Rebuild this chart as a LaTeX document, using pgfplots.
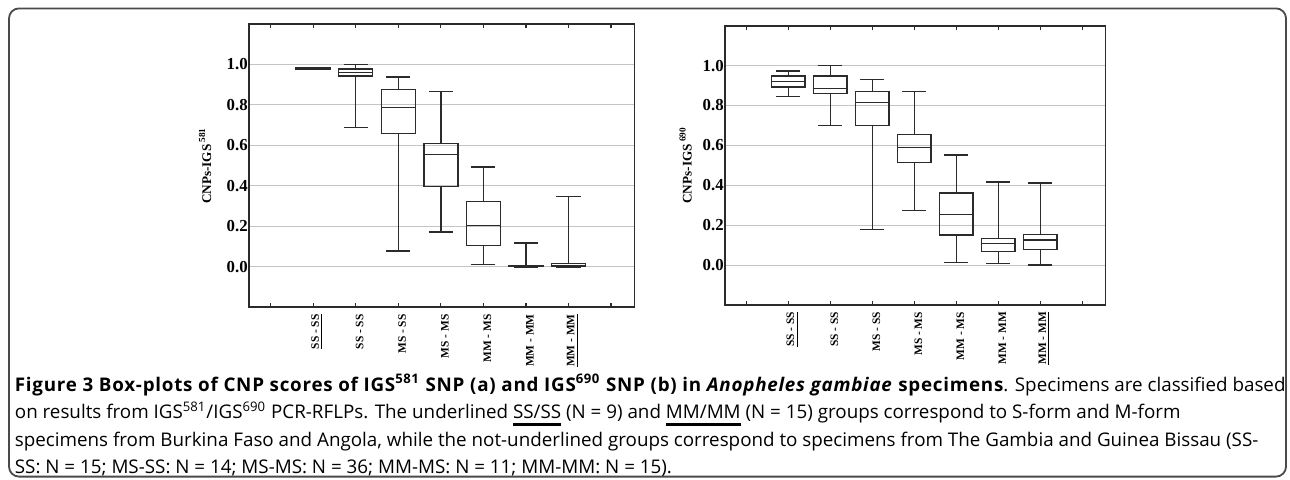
\documentclass[border=0pt]{standalone}
\usepackage{fontspec}
\setmainfont{Open Sans}
\newfontfamily\pf{Liberation Serif}
\usepackage{pgfplots}
\pgfplotsset{compat=1.18}
\usepgfplotslibrary{statistics}
\definecolor{Ink}{HTML}{2B2B2B}
\definecolor{Grid}{HTML}{C4C4C4}
\definecolor{Frame}{HTML}{4A4A4A}

\newcommand\ul[1]{\leavevmode\setbox0\hbox{#1}\rlap{\rule[-3.4bp]{\wd0}{1.3bp}}\box0\relax}
\newcommand\capb[1]{{\bfseries\addfontfeatures{LetterSpace=4}#1}}

\pgfplotsset{
  cnp/.style={
    scale only axis,
    anchor=north west,
    xmin=-0.5, xmax=8.55, ymin=-0.2, ymax=1.2,
    xtick={0,...,8},
    xticklabels={,\underline{SS - SS},SS - SS,MS - SS,MS - MS,MM - MS,MM - MM,\underline{MM - MM},},
    ytick={0,0.2,...,1.0},
    ymajorgrids,
    major grid style={Grid, line width=0.5bp},
    axis line style={Ink, line width=0.9bp},
    xtick style={Ink, line width=0.6bp},
    major tick length=2bp,
    ytick style={draw=none},
    x tick label style={rotate=90, anchor=east, yshift=-2bp,
      font=\pf\bfseries\fontsize{5.7bp}{6bp}\selectfont},
    y tick label style={inner sep=0.6bp,
      font=\pf\bfseries\fontsize{8.4bp}{9bp}\selectfont,
      /pgf/number format/.cd, fixed, fixed zerofill, precision=1, assume math mode=true},
    ylabel style={font=\pf\bfseries\fontsize{6.6bp}{7bp}\selectfont,
      at={(axis description cs:0,0.5)}, anchor=center},
    boxplot/draw direction=y,
    boxplot/box extend=0.8,
    boxplot/whisker extend=0.565,
  },
  bx/.style={Ink, line width=0.7bp, solid, mark=none},
}

% draw position, lower whisker, lower quartile, median, upper quartile, upper whisker
\newcommand\bx[6]{\addplot[bx, boxplot prepared={draw position=#1,
  lower whisker=#2, lower quartile=#3, median=#4,
  upper quartile=#5, upper whisker=#6}] coordinates {};}

\begin{document}
\begin{tikzpicture}
  \path[use as bounding box] (0,0) rectangle (645bp,-240bp);
  \draw[Frame, line width=0.9bp, rounded corners=5bp] (4.5bp,-4.2bp) rectangle (643bp,-238.3bp);

  % (a) IGS 581
  \begin{axis}[cnp,
      at={(124.65bp,-12bp)}, width=192.6bp, height=141.65bp,
      ylabel={CNPs-IGS\,\textsuperscript{581}},
      ylabel style={yshift=22.15bp},
    ]
    \bx{1}{0.976}{0.977}{0.980}{0.982}{0.983}
    \bx{2}{0.688}{0.944}{0.960}{0.978}{1.000}
    \bx{3}{0.079}{0.660}{0.788}{0.877}{0.939}
    \bx{4}{0.173}{0.396}{0.554}{0.609}{0.865}
    \bx{5}{0.012}{0.105}{0.204}{0.322}{0.493}
    \bx{6}{0.000}{0.001}{0.004}{0.008}{0.118}
    \bx{7}{0.000}{0.002}{0.008}{0.016}{0.347}
  \end{axis}

  % (b) IGS 690
  \begin{axis}[cnp,
      at={(362.65bp,-12.85bp)}, width=190.05bp, height=139.65bp,
      ylabel={CNPs-IGS\,\textsuperscript{690}},
      ylabel style={yshift=19.9bp},
    ]
    \bx{1}{0.845}{0.893}{0.920}{0.948}{0.973}
    \bx{2}{0.701}{0.860}{0.886}{0.948}{1.000}
    \bx{3}{0.179}{0.701}{0.816}{0.870}{0.930}
    \bx{4}{0.275}{0.513}{0.589}{0.654}{0.870}
    \bx{5}{0.013}{0.150}{0.255}{0.361}{0.551}
    \bx{6}{0.008}{0.068}{0.107}{0.132}{0.416}
    \bx{7}{0.000}{0.078}{0.125}{0.154}{0.411}
  \end{axis}

  \node[anchor=north west, inner sep=0pt, align=left,
        font=\fontsize{9.4bp}{13.8bp}\selectfont] at (7.25bp,-186.8bp) {%
    \capb{Figure 3 Box-plots of CNP scores of IGS\textsuperscript{581} SNP (a) and IGS\textsuperscript{690} SNP (b) in \textit{Anopheles gambiae} specimens}. Specimens are classified based\\
    on results from IGS\textsuperscript{581}/IGS\textsuperscript{690} PCR-RFLPs. The underlined \ul{SS/SS} (N = 9) and \ul{MM/MM} (N = 15) groups correspond to S-form and M-form\\
    specimens from Burkina Faso and Angola, while the not-underlined groups correspond to specimens from The Gambia and Guinea Bissau (SS-\\
    SS: N = 15; MS-SS: N = 14; MS-MS: N = 36; MM-MS: N = 11; MM-MM: N = 15).};
\end{tikzpicture}
\end{document}
